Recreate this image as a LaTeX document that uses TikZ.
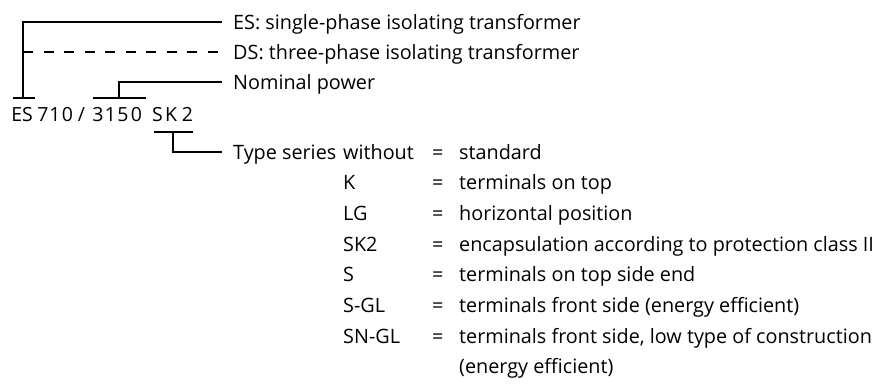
\documentclass[tikz,border=0pt]{standalone}
\usepackage{fontspec}
\setmainfont{Open Sans}
\usetikzlibrary{positioning}

\begin{document}
\begin{tikzpicture}[
		x=1pt, y=-1pt,
		tee/.style={line width=1.8pt},
		desc/.style={anchor=west, inner sep=0pt, text height=14.1pt, text depth=0pt, font=\fontsize{19.8}{22}\selectfont},
		codechar/.style={anchor=base, inner sep=0pt, font=\fontsize{19.5}{22}\selectfont}
	]

	\useasboundingbox (0,0) rectangle (877,385);

	\def \dy {30.7}
	\def \xl {233}

	% the type code, one node per character
	\foreach \c/\x [count=\i] in {E/16.7, S/27.5, 7/43, 1/55, 0/67.5, {/}/81.5, 3/98, 1/110.5, 5/123, 0/136.5, S/157.5, K/171, 2/187.5} {
			\node[codechar] (c-\i) at (\x, 121.7) {\c};
		}

	% labels on the right
	\node[desc] (es) at (\xl, 22) {ES: single-phase isolating transformer};
	\node[desc] (ds) at (\xl, 52) {DS: three-phase isolating transformer};
	\node[desc] (nom) at (\xl, 82) {Nominal power};
	\node[desc] (typ) at (\xl, 152) {Type series};

	\foreach \k/\d [count=\i from 0] in {without/standard, K/terminals on top, LG/horizontal position, SK2/encapsulation according to protection class II, S/terminals on top side end, S-GL/terminals front side (energy efficient), SN-GL/{terminals front side, low type of construction}} {
			\node[desc] (k-\i) at (343, 152 + \i * \dy) {\k};
			\node[desc] (eq-\i) at (432, 152 + \i * \dy) {=};
			\node[desc] (d-\i) at (459, 152 + \i * \dy) {\d};
		}
	\node[desc] (d-7) at (459, 152 + 7 * \dy) {(energy efficient)};

	% bars under the code
	\coordinate (es-l) at (12.7, 98);
	\coordinate (es-r) at (35, 98);
	\coordinate (es-m) at (23.3, 98);
	\coordinate (nom-l) at (92.7, 98);
	\coordinate (nom-r) at (146, 98);
	\coordinate (nom-m) at (119.3, 98);
	\coordinate (typ-l) at (154, 132.3);
	\coordinate (typ-r) at (193, 132.3);
	\coordinate (typ-m) at (173.3, 132.3);

	\draw[tee] (es-l) -- (es-r);
	\draw[tee] (nom-l) -- (nom-r);
	\draw[tee] (typ-l) -- (typ-r);

	% leaders to the labels
	\draw[tee, shorten >=11pt] (es-m) |- (es.west);
	\draw[tee, shorten >=11pt, dash pattern=on 10pt off 10.5pt] (es-m |- ds.west) -- (ds.west);
	\draw[tee, shorten >=11pt] (nom-m) |- (nom.west);
	\draw[tee, shorten >=11pt] (typ-m) |- (typ.west);

\end{tikzpicture}
\end{document}
